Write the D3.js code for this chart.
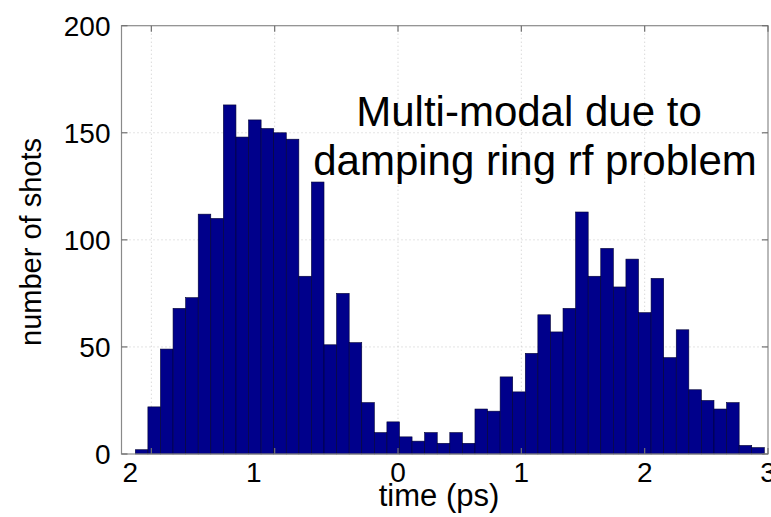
<!DOCTYPE html>
<html>
<head>
<meta charset="utf-8">
<script src="https://cdn.jsdelivr.net/npm/d3@7"></script>
<style>
  body { margin: 0; background: #fff; }
  text { font-family: "Liberation Sans", Arial, sans-serif; fill: #000; }
</style>
</head>
<body>
<svg width="771" height="517"></svg>
<script>
// histogram counts, one per 0.102 ps bin starting at -2.13 ps
const counts = [2, 22, 49, 68, 73, 112, 110, 163, 148, 156,
                152, 150, 147, 83, 127, 51, 75, 52, 24, 10,
                15, 8, 6, 10, 5, 10, 5, 21, 20, 36,
                29, 47, 65, 57, 68, 113, 83, 96, 78, 91,
                66, 82, 45, 58, 30, 25, 21, 24, 4, 3]
const binStart = -2.13
const binWidth = 0.102
const xTicks = [-2, -1, 0, 1, 2, 3]
const xTickLabels = ['2', '1', '0', '1', '2', '3']
const yTicks = [0, 50, 100, 150, 200]
const note = ['Multi-modal due to', 'damping ring rf problem']

const svg = d3.select('svg')
const pLeft = 121.5, pRight = 768, pTop = 25.7, pBottom = 454

const x = d3.scaleLinear().domain([-2.242, 3.0]).range([pLeft, pRight])
const y = d3.scaleLinear().domain([0, 200]).range([pBottom, pTop])

const bins = counts.map((c, i) => ({
    x0: binStart + i * binWidth,
    x1: binStart + (i + 1) * binWidth,
    n: c
}))

// grid
const grid = svg.append('g')
    .attr('stroke', '#c8c8c8')
    .attr('stroke-dasharray', '1,3')
grid.selectAll('.gx')
    .data(xTicks.slice(0, 5))
    .join('line')
    .attr('class', 'gx')
    .attr('x1', d => x(d)).attr('x2', d => x(d))
    .attr('y1', pTop).attr('y2', pBottom)
grid.selectAll('.gy')
    .data(yTicks.slice(1, 4))
    .join('line')
    .attr('class', 'gy')
    .attr('x1', pLeft).attr('x2', pRight)
    .attr('y1', d => y(d)).attr('y2', d => y(d))

// bars
svg.append('g')
    .selectAll('rect')
    .data(bins)
    .join('rect')
    .attr('x', d => x(d.x0))
    .attr('width', d => x(d.x1) - x(d.x0))
    .attr('y', d => y(d.n))
    .attr('height', d => y(0) - y(d.n))
    .attr('fill', '#00008b')
    .attr('stroke', '#000033')
    .attr('stroke-width', 0.6)

// box
svg.append('rect')
    .attr('x', pLeft).attr('y', pTop)
    .attr('width', pRight - pLeft).attr('height', pBottom - pTop)
    .attr('fill', 'none')
    .attr('stroke', '#8a8a8a')
    .attr('stroke-width', 1.2)

// inward ticks
const ticks = svg.append('g').attr('stroke', '#707070').attr('stroke-width', 1.2)
xTicks.forEach(t => {
    ticks.append('line').attr('x1', x(t)).attr('x2', x(t)).attr('y1', pTop).attr('y2', pTop + 6)
    ticks.append('line').attr('x1', x(t)).attr('x2', x(t)).attr('y1', pBottom).attr('y2', pBottom - 6)
})
yTicks.forEach(t => {
    ticks.append('line').attr('x1', pLeft).attr('x2', pLeft + 6).attr('y1', y(t)).attr('y2', y(t))
    ticks.append('line').attr('x1', pRight).attr('x2', pRight - 6).attr('y1', y(t)).attr('y2', y(t))
})

// tick labels
svg.append('g')
    .selectAll('text')
    .data(yTicks)
    .join('text')
    .attr('x', pLeft - 11)
    .attr('y', d => y(d) + 10)
    .attr('text-anchor', 'end')
    .attr('font-size', 28)
    .text(d => d)

svg.append('g')
    .selectAll('text')
    .data(xTicks)
    .join('text')
    .attr('x', d => x(d) + (d < 0 ? -21 : 0))
    .attr('y', 482)
    .attr('text-anchor', 'middle')
    .attr('font-size', 28)
    .text((d, i) => xTickLabels[i])

// axis titles
svg.append('text')
    .attr('x', 439)
    .attr('y', 506)
    .attr('text-anchor', 'middle')
    .attr('font-size', 31)
    .text('time (ps)')

svg.append('text')
    .attr('transform', 'translate(41, 242) rotate(-90)')
    .attr('text-anchor', 'middle')
    .attr('font-size', 29)
    .text('number of shots')

// annotation
svg.append('text')
    .attr('x', 529).attr('y', 126)
    .attr('text-anchor', 'middle')
    .attr('font-size', 42)
    .text(note[0])
svg.append('text')
    .attr('x', 535).attr('y', 175)
    .attr('text-anchor', 'middle')
    .attr('font-size', 42)
    .text(note[1])
</script>
</body>
</html>
